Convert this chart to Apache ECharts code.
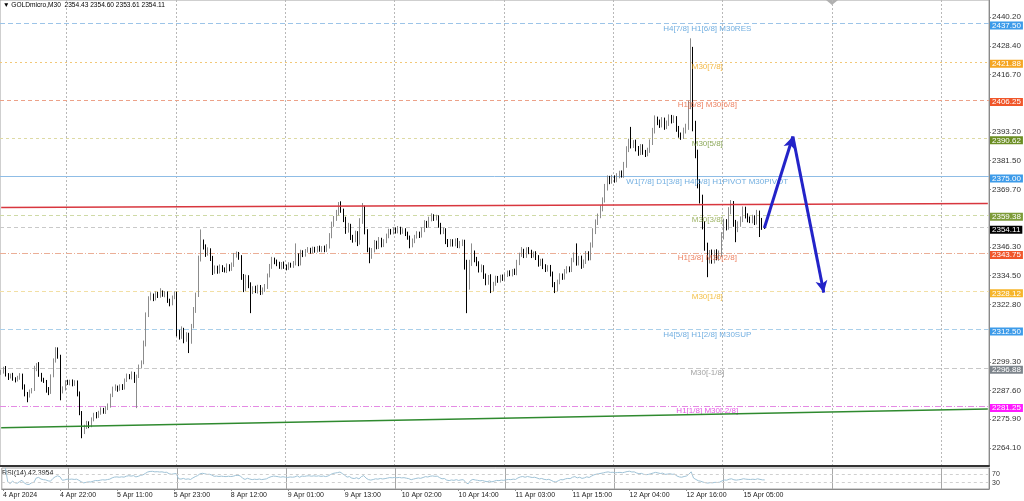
<!DOCTYPE html>
<html>
<head>
<meta charset="utf-8">
<title>GOLDmicro,M30</title>
<script src="https://cdn.jsdelivr.net/npm/echarts@6.0.0/dist/echarts.min.js"></script>
<style>
  html, body { margin: 0; padding: 0; background: #fff; }
  #chart { width: 1024px; height: 501px; }
</style>
</head>
<body>
<div id="chart"></div>
<script>
// ---- data (M30 bars, 4 Apr 10:00 .. 15 Apr ~09:30) ----
var firstOpen = 2294.6;
// close of every bar; open of a bar = close of the bar before
var closes = [
  2295.2, 2296.4, 2294.1, 2293.0, 2293.8, 2292.5, 2291.9, 2292.8, 2293.6, 2289.4,
  2286.1, 2285.4, 2287.2, 2288.0, 2296.5, 2298.3, 2294.0, 2292.1, 2291.3, 2288.2,
  2286.9, 2293.6, 2299.8, 2304.2, 2301.5, 2287.0, 2288.4, 2291.2, 2290.6, 2291.5,
  2290.1, 2291.0, 2286.3, 2278.4, 2271.0, 2272.6, 2274.3, 2273.2, 2275.8, 2277.9,
  2277.0, 2278.6, 2279.9, 2278.8, 2280.2, 2281.5, 2285.6, 2288.3, 2289.0, 2288.1,
  2289.4, 2288.7, 2291.9, 2293.6, 2292.8, 2294.4, 2291.7, 2293.5, 2297.3, 2299.1,
  2306.8, 2318.5, 2325.2, 2326.4, 2325.1, 2327.0, 2326.3, 2327.8, 2326.6, 2327.4,
  2324.2, 2323.0, 2325.6, 2327.1, 2311.2, 2309.6, 2312.4, 2308.5, 2310.3, 2307.6,
  2313.8, 2320.4, 2326.7, 2341.5, 2347.9, 2346.2, 2343.5, 2344.8, 2341.6, 2336.4,
  2337.8, 2336.2, 2338.1, 2337.0, 2336.5, 2338.4, 2337.3, 2339.0, 2342.6, 2343.4,
  2341.9, 2334.0, 2329.2, 2333.8, 2330.5, 2328.0, 2329.4, 2328.3, 2329.9, 2327.6,
  2328.8, 2330.1, 2334.6, 2338.2, 2341.0, 2340.3, 2339.2, 2338.0, 2339.4, 2338.3,
  2337.6, 2339.1, 2338.6, 2339.5, 2342.8, 2339.6, 2344.0, 2343.1, 2344.6, 2345.2,
  2344.3, 2345.5, 2344.8, 2345.9, 2345.0, 2345.8, 2344.9, 2346.5, 2350.8, 2355.4,
  2357.9, 2360.2, 2363.8, 2361.0, 2357.6, 2353.0, 2354.8, 2350.4, 2349.1, 2351.8,
  2348.0, 2356.7, 2362.1, 2352.6, 2345.2, 2342.3, 2344.8, 2347.9, 2346.3, 2349.2,
  2347.0, 2348.5, 2350.7, 2352.9, 2352.1, 2353.4, 2352.6, 2353.8, 2352.3, 2353.1,
  2351.6, 2350.2, 2346.9, 2348.7, 2350.4, 2351.8, 2350.9, 2353.2, 2356.0, 2355.1,
  2357.6, 2358.7, 2357.9, 2358.4, 2355.2, 2352.4, 2353.1, 2348.6, 2347.2, 2348.5,
  2347.4, 2348.9, 2346.6, 2347.8, 2348.2, 2338.5, 2330.1, 2339.6, 2343.8, 2341.2,
  2339.5, 2336.8, 2338.0, 2334.4, 2331.6, 2333.9, 2329.0, 2331.2, 2333.5, 2332.6,
  2334.1, 2333.2, 2334.7, 2335.8, 2335.1, 2336.4, 2335.6, 2339.8, 2343.0, 2344.6,
  2342.7, 2345.3, 2344.1, 2342.8, 2343.6, 2341.9, 2339.4, 2340.6, 2338.2, 2337.1,
  2338.0, 2335.2, 2331.0, 2328.9, 2331.8, 2334.6, 2333.8, 2336.2, 2337.5, 2336.9,
  2340.8, 2342.9, 2339.6, 2341.7, 2338.5, 2340.2, 2343.5, 2341.8, 2346.9, 2352.5,
  2356.3, 2358.9, 2362.0, 2365.4, 2370.6, 2374.3, 2373.0, 2374.6, 2373.5, 2375.2,
  2376.4, 2375.6, 2379.8, 2386.0, 2389.2, 2387.6, 2388.9, 2386.5, 2384.8, 2387.2,
  2385.0, 2384.2, 2385.7, 2389.0, 2393.6, 2398.5, 2397.2, 2396.0, 2398.1, 2395.4,
  2396.8, 2399.2, 2397.9, 2398.7, 2394.6, 2392.1, 2391.4, 2393.8, 2395.6, 2404.0,
  2426.0, 2396.0, 2384.5, 2372.0, 2366.0, 2355.0, 2346.5, 2341.0, 2343.6, 2340.8,
  2343.9, 2342.0, 2343.5, 2350.8, 2356.2, 2354.6, 2361.0, 2363.4, 2356.0, 2353.6,
  2355.5, 2357.6, 2361.5, 2359.0, 2357.6, 2357.0, 2358.2, 2356.6, 2359.8, 2356.9,
  2354.43, 2354.11
];
// wick lengths above max(open, close) and below min(open, close)
var upperWicks = [
  0.8, 0.9, 1.2, 0.6, 0.7, 1.0, 0.5, 0.8, 1.1, 0.9,
  0.7, 0.9, 0.8, 0.6, 1.2, 0.5, 0.9, 0.8, 0.7, 0.6,
  0.8, 0.6, 0.9, 1.1, 1.0, 0.7, 0.9, 0.6, 0.8, 0.5,
  0.6, 0.8, 0.7, 0.9, 0.8, 1.0, 0.9, 0.7, 0.8, 0.6,
  0.9, 0.7, 0.8, 0.6, 1.0, 0.8, 0.7, 0.9, 1.1, 0.6,
  0.7, 0.8, 0.6, 0.9, 0.7, 1.0, 0.8, 0.6, 0.9, 0.8,
  1.2, 1.0, 0.9, 1.3, 0.8, 1.1, 0.9, 1.6, 0.7, 0.8,
  0.7, 0.9, 0.8, 1.0, 0.9, 1.2, 1.4, 0.8, 1.1, 0.9,
  1.0, 1.3, 0.9, 1.2, 5.5, 1.4, 1.1, 1.3, 0.9, 1.0,
  0.9, 0.8, 1.0, 0.7, 0.9, 1.1, 0.8, 0.9, 1.2, 1.0,
  0.8, 1.0, 1.2, 1.1, 0.9, 1.3, 0.8, 1.0, 0.9, 0.8,
  0.9, 1.0, 0.8, 1.1, 1.2, 0.9, 0.8, 1.0, 0.7, 0.9,
  0.8, 0.9, 0.7, 1.0, 4.9, 0.8, 1.1, 0.9, 0.8, 1.0,
  0.7, 0.9, 0.8, 0.7, 0.9, 0.8, 1.0, 0.9, 1.1, 1.2,
  1.0, 1.2, 0.8, 1.1, 0.9, 1.0, 1.3, 0.9, 0.8, 1.1,
  0.9, 1.3, 2.1, 1.0, 0.9, 0.8, 1.0, 1.2, 0.9, 1.1,
  0.8, 0.9, 1.0, 0.8, 0.7, 0.9, 0.8, 1.0, 0.7, 0.8,
  0.8, 0.9, 0.7, 1.0, 0.8, 0.9, 0.7, 1.1, 1.2, 0.9,
  1.0, 1.3, 0.9, 1.0, 0.8, 0.9, 1.1, 0.8, 0.9, 1.0,
  0.9, 0.8, 1.0, 0.9, 1.1, 1.0, 2.5, 1.4, 3.9, 1.0,
  1.0, 0.9, 1.1, 0.8, 1.0, 0.9, 1.2, 0.8, 1.0, 0.9,
  0.8, 0.9, 0.7, 0.8, 0.9, 0.8, 1.0, 1.2, 0.9, 1.6,
  0.9, 0.8, 0.9, 1.0, 0.8, 0.9, 1.0, 0.8, 0.9, 1.0,
  0.8, 0.9, 1.0, 0.9, 1.1, 0.9, 0.8, 1.0, 0.9, 0.8,
  1.0, 1.1, 4.8, 0.9, 1.0, 0.9, 1.1, 1.0, 1.2, 1.4,
  1.2, 1.0, 1.3, 1.1, 1.4, 1.2, 1.0, 1.1, 0.9, 1.2,
  1.0, 1.1, 1.2, 1.4, 1.3, 6.1, 1.0, 1.2, 1.0, 1.1,
  1.0, 0.9, 1.1, 1.2, 1.3, 1.5, 1.0, 1.1, 1.2, 1.0,
  1.1, 1.2, 1.0, 1.3, 1.0, 1.1, 0.9, 1.2, 1.0, 2.0,
  5.5, 2.0, 1.8, 1.5, 2.0, 1.6, 1.8, 1.5, 1.4, 1.6,
  1.2, 1.4, 1.3, 1.5, 1.6, 1.4, 1.5, 2.0, 1.6, 1.3,
  1.2, 1.1, 1.3, 1.2, 1.0, 1.1, 1.2, 1.0, 1.6, 1.3,
  1.2, 0.17
];
var lowerWicks = [
  0.6, 0.7, 0.8, 1.1, 0.5, 0.9, 1.0, 0.6, 0.8, 1.4,
  0.9, 2.6, 0.7, 0.8, 0.6, 1.0, 0.8, 0.9, 0.6, 1.5,
  1.2, 0.7, 0.6, 0.8, 0.9, 3.4, 0.6, 0.8, 0.7, 0.9,
  0.8, 0.6, 1.1, 0.9, 2.9, 1.2, 0.7, 1.0, 0.6, 0.8,
  0.8, 0.6, 0.9, 0.7, 0.8, 0.6, 0.9, 0.7, 0.8, 1.0,
  0.6, 0.9, 0.7, 0.8, 0.6, 0.7, 1.0, 11.3, 0.8, 0.7,
  0.8, 1.2, 0.9, 0.8, 1.0, 0.7, 0.9, 0.8, 0.7, 0.9,
  0.8, 1.0, 0.6, 0.7, 1.5, 1.2, 0.9, 1.6, 1.0, 4.7,
  0.9, 0.8, 1.1, 0.9, 1.2, 1.0, 1.3, 0.8, 1.1, 1.6,
  1.1, 0.9, 0.8, 1.0, 0.7, 0.9, 1.0, 0.8, 0.9, 0.7,
  0.9, 1.2, 1.4, 1.0, 1.1, 8.8, 1.0, 0.9, 1.1, 1.0,
  0.8, 0.9, 1.0, 0.8, 0.9, 1.1, 0.8, 0.7, 0.9, 1.0,
  0.9, 0.7, 0.8, 0.9, 0.8, 1.2, 0.9, 1.0, 0.8, 0.7,
  0.8, 0.7, 0.9, 0.8, 0.7, 0.9, 0.8, 0.7, 0.9, 1.0,
  0.9, 1.0, 1.1, 0.8, 1.2, 1.4, 0.9, 1.3, 1.1, 0.9,
  1.4, 0.8, 1.0, 1.2, 1.1, 2.7, 0.9, 0.8, 1.0, 0.9,
  0.9, 0.8, 0.7, 0.9, 0.8, 0.7, 0.9, 0.8, 1.0, 0.7,
  0.9, 1.0, 1.2, 0.8, 0.9, 0.7, 1.0, 0.8, 0.9, 1.1,
  0.8, 0.9, 1.0, 0.8, 1.1, 1.0, 0.9, 1.2, 1.0, 0.8,
  1.0, 0.9, 0.8, 0.9, 1.2, 1.5, 10.9, 1.3, 1.1, 1.2,
  1.1, 1.0, 0.9, 1.2, 1.0, 0.8, 1.6, 0.9, 0.8, 1.0,
  0.9, 0.8, 0.9, 0.7, 0.8, 0.9, 0.8, 0.9, 1.0, 0.8,
  1.0, 0.9, 0.8, 1.1, 0.9, 1.0, 1.2, 0.9, 1.0, 1.1,
  0.9, 1.0, 1.2, 1.5, 0.9, 0.8, 1.0, 0.9, 0.8, 1.0,
  0.9, 0.8, 1.0, 0.9, 1.2, 0.8, 0.9, 1.1, 1.0, 0.9,
  1.0, 1.1, 0.9, 1.2, 1.0, 1.3, 1.1, 0.9, 1.0, 0.8,
  0.9, 1.0, 1.1, 1.2, 1.0, 1.1, 0.9, 1.2, 1.3, 1.0,
  1.1, 1.2, 0.9, 1.0, 1.1, 1.0, 1.2, 1.1, 0.9, 1.3,
  1.0, 1.1, 1.2, 1.0, 1.3, 1.2, 1.4, 1.0, 1.2, 1.5,
  1.5, 2.5, 2.0, 1.8, 2.0, 1.6, 1.8, 7.1, 1.5, 1.4,
  1.3, 1.2, 1.4, 1.3, 1.5, 1.6, 1.3, 1.4, 1.5, 5.4,
  1.3, 1.0, 1.2, 1.1, 1.3, 1.0, 1.1, 1.4, 1.2, 6.6,
  1.2, 0.5
];

// time axis: labels every 24 bars
var xTickLabels = ['4 Apr 2024', '4 Apr 22:00', '5 Apr 11:00', '5 Apr 23:00', '8 Apr 12:00',
  '9 Apr 01:00', '9 Apr 13:00', '10 Apr 02:00', '10 Apr 14:00', '11 Apr 03:00',
  '11 Apr 15:00', '12 Apr 04:00', '12 Apr 16:00', '15 Apr 05:00'];
var priceTicks = [2440.2, 2428.4, 2416.7, 2393.2, 2381.5, 2369.7, 2346.3, 2334.5, 2322.8,
  2299.3, 2287.6, 2275.9, 2264.1];
var rsiTicks = [0, 30, 70, 100];

// murrey levels
var levelPrices = [2437.50, 2421.88, 2406.25, 2390.62, 2375.00, 2359.38, 2343.75, 2328.12,
  2312.50, 2296.88, 2281.25];
var levelNames = ['H4[7/8] H1[6/8] M30RES', 'M30[7/8]', 'H1[6/8] M30[6/8]', 'M30[5/8]',
  'W1[7/8] D1[3/8] H4[6/8] H1PIVOT M30PIVOT', 'M30[3/8]', 'H1[3/8] M30[2/8]', 'M30[1/8]',
  'H4[5/8] H1[2/8] M30SUP', 'M30[-1/8]', 'H1[1/8] M30[-2/8]'];
var lastPrice = 2354.11;

// drawn objects: [bar index, price]
var redTrend = [[0, 2362.4], [415, 2364.0]];
var greenTrend = [[0, 2272.4], [415, 2280.0]];
var arrowPath = [[321, 2354.0], [333, 2391.4], [346, 2327.6]];

// ---- styles ----
var levelStyles = [
  { text: '#4e9ad8', line: '#9cc4e8', box: '#3d9be9', type: [5, 3] },
  { text: '#f0a818', line: '#f2c878', box: '#f5a623', type: [2, 3] },
  { text: '#e8643c', line: '#eca188', box: '#f0562a', type: [4, 3] },
  { text: '#6f9230', line: '#dedaa4', box: '#6b8e23', type: [3, 3] },
  { text: '#4e9ad8', line: '#8fbde6', box: '#3d9be9', type: 'solid' },
  { text: '#86a040', line: '#cfdaa6', box: '#7d9b38', type: [4, 3] },
  { text: '#e8643c', line: '#ebae96', box: '#f0562a', type: [6, 2, 1, 2] },
  { text: '#f0b018', line: '#f2dfa4', box: '#f6b52a', type: [4, 3] },
  { text: '#4e9ad8', line: '#a9cfea', box: '#3d9be9', type: [5, 3] },
  { text: '#8a8a8a', line: '#c8c8c8', box: '#7e858c', type: [5, 3] },
  { text: '#e02ee0', line: '#e48ae4', box: '#ff1aff', type: [6, 2, 1, 2] }
];
var FONT = 'Liberation Sans, Arial, sans-serif';
var TOTAL_SLOTS = 416;   // bars that fit in the window incl. the right shift
var LABEL_STEP = 24;
var LEVEL_LABEL_BAR = 297;

// M30 bar times, gold session skips 00:00-01:00 and weekends
function buildTimes(n) {
  var out = [];
  var t = Date.UTC(2024, 3, 4, 10, 0);
  var pad = function (v) { return (v < 10 ? '0' : '') + v; };
  while (out.length < n) {
    var d = new Date(t);
    var day = d.getUTCDay();
    if (day !== 0 && day !== 6 && d.getUTCHours() !== 0) {
      out.push(d.getUTCFullYear() + '-' + pad(d.getUTCMonth() + 1) + '-' + pad(d.getUTCDate()) +
        ' ' + pad(d.getUTCHours()) + ':' + pad(d.getUTCMinutes()));
    }
    t += 30 * 60000;
  }
  return out;
}

function calcRsi(values, period) {
  var out = [null];
  var avgGain = 0, avgLoss = 0;
  for (var i = 1; i < values.length; i++) {
    var ch = values[i] - values[i - 1];
    var n = Math.min(i, period);
    avgGain = (avgGain * (n - 1) + (ch > 0 ? ch : 0)) / n;
    avgLoss = (avgLoss * (n - 1) + (ch < 0 ? -ch : 0)) / n;
    out.push(avgLoss === 0 ? 100 : 100 - 100 / (1 + avgGain / avgLoss));
  }
  return out;
}

var times = buildTimes(TOTAL_SLOTS);
var candles = closes.map(function (c, i) {
  var o = i === 0 ? firstOpen : closes[i - 1];
  var lo = Math.min(o, c) - lowerWicks[i];
  var hi = Math.max(o, c) + upperWicks[i];
  return [o, c, +lo.toFixed(2), +hi.toFixed(2)];
});
var rsi = calcRsi(closes, 14);

var labelInterval = function (idx) {
  return idx % LABEL_STEP === 0 && idx / LABEL_STEP < xTickLabels.length;
};
var gridInterval = function (idx) {
  return idx >= 28 && (idx - 28) % 46 === 0;
};

var levelLines = levelPrices.map(function (p, k) {
  var s = levelStyles[k];
  return {
    yAxis: p,
    lineStyle: { color: s.line, type: s.type, width: 1 },
    label: { backgroundColor: s.box, formatter: p.toFixed(2) }
  };
});
levelLines.push({
  yAxis: lastPrice,
  lineStyle: { color: '#c9c9c9', type: [4, 3], width: 1 },
  label: { backgroundColor: '#000000', formatter: lastPrice.toFixed(2) }
});

var chart = echarts.init(document.getElementById('chart'), null, { renderer: 'canvas' });
var option = {
  animation: false,
  backgroundColor: '#ffffff',
  textStyle: { fontFamily: FONT },
  grid: [
    { left: 0, right: 35, top: 0, height: 466, show: true, borderColor: '#a0a0a0', borderWidth: 1 },
    { left: 0, right: 35, top: 468, height: 21, show: true, borderColor: '#a0a0a0', borderWidth: 1 }
  ],
  xAxis: [
    {
      type: 'category', gridIndex: 0, data: times, boundaryGap: true,
      axisLine: { show: true, onZero: false, lineStyle: { color: '#333333', width: 2 } },
      axisTick: { show: false }, axisLabel: { show: false },
      splitLine: { show: true, interval: gridInterval, lineStyle: { color: '#b8b8b8', type: [2, 2] } }
    },
    {
      type: 'category', gridIndex: 1, data: times, boundaryGap: true,
      axisLine: { show: true, onZero: false, lineStyle: { color: '#8a8a8a' } },
      axisTick: { show: true, interval: labelInterval, alignWithLabel: true, length: 2, lineStyle: { color: '#8a8a8a' } },
      axisLabel: {
        interval: labelInterval, align: 'left', fontSize: 7, color: '#222222', margin: 3,
        formatter: function (v, idx) { return xTickLabels[idx / LABEL_STEP]; }
      },
      splitLine: { show: true, interval: gridInterval, lineStyle: { color: '#a8a8a8' } }
    }
  ],
  yAxis: [
    {
      type: 'value', gridIndex: 0, position: 'right', min: 2256.75, max: 2447.15, scale: true,
      axisLine: { show: true, lineStyle: { color: '#8a8a8a' } },
      axisTick: { show: true, customValues: priceTicks, length: 2, lineStyle: { color: '#8a8a8a' } },
      axisLabel: {
        customValues: priceTicks, fontSize: 8, color: '#333333', margin: 3,
        formatter: function (v) { return v.toFixed(2); }
      },
      splitLine: { show: false }
    },
    {
      type: 'value', gridIndex: 1, position: 'right', min: 0, max: 100,
      axisLine: { show: true, lineStyle: { color: '#8a8a8a' } },
      axisTick: { show: false },
      axisLabel: { customValues: rsiTicks, fontSize: 7, color: '#333333', margin: 3 },
      splitLine: { show: false }
    }
  ],
  series: [
    {
      name: 'GOLDmicro,M30', type: 'candlestick', xAxisIndex: 0, yAxisIndex: 0,
      data: candles, barWidth: 1,
      itemStyle: {
        color: '#ffffff', color0: '#000000',
        borderColor: '#8c8c8c', borderColor0: '#000000', borderWidth: 1
      },
      markLine: {
        silent: true, symbol: ['none', 'none'], z: 1,
        label: {
          show: true, position: 'end', distance: 1, color: '#ffffff', fontSize: 8,
          padding: [0, 2, 0, 2], fontFamily: FONT, offset: [0, 2]
        },
        data: levelLines
      }
    },
    {
      name: 'levels', type: 'scatter', xAxisIndex: 0, yAxisIndex: 0,
      symbolSize: 0.1, silent: true,
      itemStyle: { color: 'rgba(0,0,0,0)' },
      label: { show: true, position: 'inside', offset: [0, 5], fontSize: 8, fontFamily: FONT },
      data: levelPrices.map(function (p, k) {
        return {
          value: [LEVEL_LABEL_BAR, p],
          label: { formatter: levelNames[k], color: levelStyles[k].text }
        };
      }),
      markLine: {
        silent: true, symbol: ['none', 'none'], label: { show: false },
        data: [
          [{ coord: redTrend[0], lineStyle: { color: '#d8363e', width: 1.5, type: 'solid' } }, { coord: redTrend[1] }],
          [{ coord: greenTrend[0], lineStyle: { color: '#2f8a2f', width: 1.5, type: 'solid' } }, { coord: greenTrend[1] }],
          [{ coord: arrowPath[0], lineStyle: { color: '#2323c8', width: 3, type: 'solid' } },
           { coord: arrowPath[1], symbol: 'arrow', symbolSize: [9, 12] }],
          [{ coord: arrowPath[1], lineStyle: { color: '#2323c8', width: 3, type: 'solid' } },
           { coord: arrowPath[2], symbol: 'arrow', symbolSize: [9, 12] }]
        ]
      }
    },
    {
      name: 'RSI(14)', type: 'line', xAxisIndex: 1, yAxisIndex: 1,
      data: rsi, showSymbol: false, silent: true,
      lineStyle: { color: '#9fc2d6', width: 1 },
      markLine: {
        silent: true, symbol: ['none', 'none'], label: { show: false },
        lineStyle: { color: '#d0d0d0', type: [3, 3], width: 1 },
        data: [{ yAxis: 30 }, { yAxis: 70 }]
      }
    }
  ],
  graphic: [
    {
      type: 'text', left: 3, top: 2,
      style: { text: '\u25BC GOLDmicro,M30  2354.43 2354.60 2353.61 2354.11', font: '6.6px ' + FONT, fill: '#000000' }
    },
    {
      type: 'text', left: 2, top: 470,
      style: { text: 'RSI(14) 42.3954', font: '7px ' + FONT, fill: '#222222' }
    },
    {
      type: 'polygon', shape: { points: [[826, 0], [838, 0], [832, 5]] },
      style: { fill: '#b0b0b0' }
    }
  ]
};
chart.setOption(option);
</script>
</body>
</html>
